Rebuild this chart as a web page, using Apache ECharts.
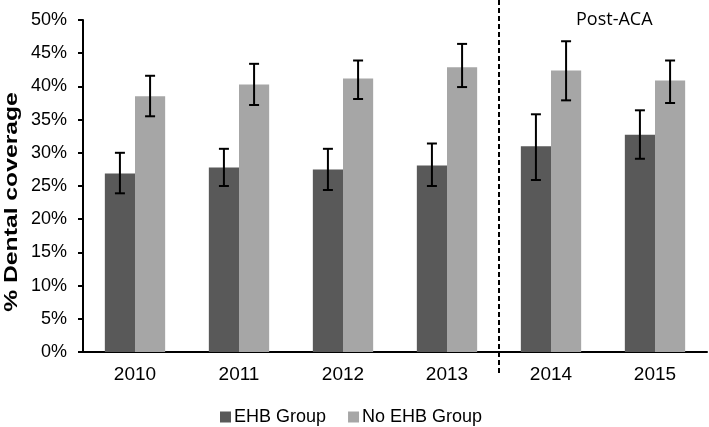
<!DOCTYPE html>
<html>
<head>
<meta charset="utf-8">
<script src="https://cdn.jsdelivr.net/npm/echarts@6/dist/echarts.min.js"></script>
<style>html,body{margin:0;padding:0;background:#fff}#c{width:709px;height:427px}</style>
</head>
<body>
<div id="c"></div>
<script>
var categories = ['2010', '2011', '2012', '2013', '2014', '2015'];
var ehb = [26.9, 27.8, 27.5, 28.1, 31.0, 32.7];
var ehbLow = [23.9, 25.0, 24.4, 25.0, 25.9, 29.1];
var ehbHigh = [30.0, 30.6, 30.6, 31.4, 35.8, 36.4];
var noEhb = [38.5, 40.3, 41.2, 42.9, 42.4, 40.9];
var noLow = [35.5, 37.2, 38.1, 39.9, 37.9, 37.5];
var noHigh = [41.6, 43.4, 43.9, 46.4, 46.8, 43.9];
var yTicks = [0, 50, 5];
var dividerAfter = 3;
var annotation = 'Post-ACA';
var yTitle = '% Dental coverage';

var chart = echarts.init(document.getElementById('c'), null, {renderer: 'canvas'});
var FILL = 0.58;

function errData(low, high) {
  return categories.map(function (c, i) { return [i, low[i], high[i]]; });
}
function errRender(side) {
  return function (params, api) {
    var idx = api.value(0);
    var band = api.size([1, 0])[0];
    var bw = band * FILL / 2;
    var lo = api.coord([idx, api.value(1)]);
    var hi = api.coord([idx, api.value(2)]);
    var x = lo[0] + side * bw / 2;
    var cap = 5;
    var st = {stroke: '#000', lineWidth: 2};
    return {type: 'group', children: [
      {type: 'line', shape: {x1: x, y1: hi[1], x2: x, y2: lo[1]}, style: st},
      {type: 'line', shape: {x1: x - cap, y1: hi[1], x2: x + cap, y2: hi[1]}, style: st},
      {type: 'line', shape: {x1: x - cap, y1: lo[1], x2: x + cap, y2: lo[1]}, style: st}
    ]};
  };
}

chart.setOption({
  animation: false,
  textStyle: {fontFamily: 'Liberation Sans, Arial, sans-serif'},
  grid: {left: 83, right: 2, top: 20, bottom: 75, containLabel: false, outerBoundsMode: 'none'},
  legend: {
    top: 403, left: 215, icon: 'rect', itemWidth: 11, itemHeight: 11, itemGap: 22,
    textStyle: {fontSize: 18, color: '#000', padding: [0, 0, 0, -2]},
    data: ['EHB Group', 'No EHB Group']
  },
  xAxis: {
    type: 'category', data: categories,
    axisLine: {lineStyle: {color: '#000', width: 2}},
    axisTick: {lineStyle: {color: '#000', width: 2}, length: 5},
    axisLabel: {fontSize: 19, color: '#000', margin: 13}
  },
  yAxis: {
    type: 'value', min: yTicks[0], max: yTicks[1], interval: yTicks[2],
    axisLine: {show: true, lineStyle: {color: '#000', width: 2}},
    axisTick: {show: true, lineStyle: {color: '#000', width: 2}, length: 5},
    splitLine: {show: false},
    axisLabel: {fontSize: 18, color: '#000', margin: 16, formatter: '{value}%'}
  },
  graphic: [{
    type: 'text', left: 576, top: 11,
    style: {text: annotation, fontSize: 18, fontFamily: 'Open Sans', fill: '#000'}
  }, {
    type: 'text', x: 12, y: 202, rotation: Math.PI / 2, scaleX: 1.3,
    style: {text: yTitle, fontSize: 19, fontWeight: 'bold', fill: '#000',
      fontFamily: 'Liberation Sans, Arial, sans-serif', align: 'center', verticalAlign: 'middle'}
  }],
  series: [
    {name: 'EHB Group', type: 'bar', data: ehb, barGap: '0%', barCategoryGap: '42%',
     itemStyle: {color: '#595959'}},
    {name: 'No EHB Group', type: 'bar', data: noEhb, barGap: '0%', barCategoryGap: '42%',
     itemStyle: {color: '#a6a6a6'}},
    {type: 'custom', renderItem: errRender(-1), data: errData(ehbLow, ehbHigh), z: 10, clip: false,
     encode: {x: 0, y: [1, 2]}},
    {type: 'custom', renderItem: errRender(1), data: errData(noLow, noHigh), z: 10, clip: false,
     encode: {x: 0, y: [1, 2]}},
    {type: 'custom', z: 11, clip: false, data: [[dividerAfter, yTicks[1]]],
     encode: {x: 0, y: 1},
     renderItem: function (params, api) {
       var band = api.size([1, 0])[0];
       var top = api.coord([api.value(0), yTicks[1]]);
       var bot = api.coord([api.value(0), yTicks[0]]);
       var x = top[0] + band / 2;
       return {type: 'line', shape: {x1: x, y1: top[1] - 20, x2: x, y2: bot[1] + 23},
         style: {stroke: '#000', lineWidth: 2, lineDash: [5, 3]}};
     }}
  ]
});
</script>
</body>
</html>
